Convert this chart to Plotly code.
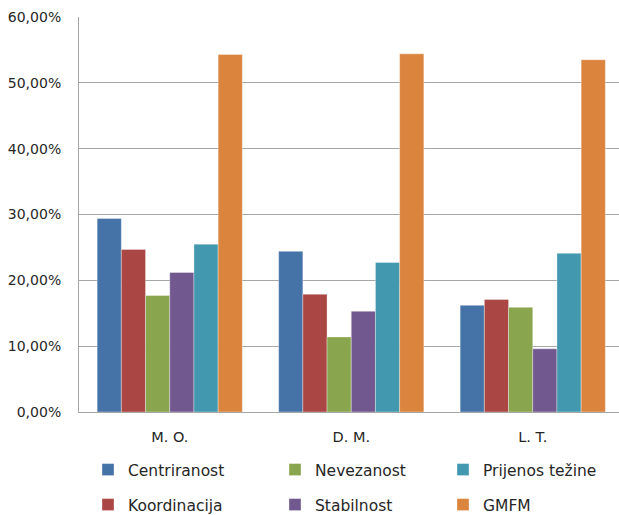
import plotly.graph_objects as go

categories = ["M. O.", "D. M.", "L. T."]
series_names = ["Centriranost", "Koordinacija", "Nevezanost", "Stabilnost", "Prijenos težine", "GMFM"]
centriranost = [29.4, 24.4, 16.2]
koordinacija = [24.7, 17.9, 17.1]
nevezanost = [17.7, 11.4, 15.9]
stabilnost = [21.2, 15.3, 9.6]
prijenos = [25.5, 22.7, 24.1]
gmfm = [54.3, 54.4, 53.5]
colors = ["#4572A7", "#AA4643", "#89A54E", "#71588F", "#4198AF", "#DB843D"]
y_ticks = [0, 10, 20, 30, 40, 50, 60]
y_tick_labels = ["0,00%", "10,00%", "20,00%", "30,00%", "40,00%", "50,00%", "60,00%"]

values = [centriranost, koordinacija, nevezanost, stabilnost, prijenos, gmfm]

W, H = 619, 515
L, T, B = 79, 17, 103
plot_w = W - L
cat_w = 181.5

# legend layout: (text-start px, row center px)
legend_pos = [(125, 470), (125, 505), (312, 470), (312, 505), (480, 470), (480, 505)]
legend_names = ["legend", "legend2", "legend3", "legend4", "legend5", "legend6"]

fig = go.Figure()
for i, (name, vals) in enumerate(zip(series_names, values)):
    fig.add_trace(go.Bar(
        x=categories, y=vals, name=name,
        marker=dict(color=colors[i], line=dict(color="rgba(255,255,255,0.35)", width=1)),
        legend=legend_names[i],
    ))

layout_legends = {}
for i, (tx, cy) in enumerate(legend_pos):
    layout_legends[legend_names[i]] = dict(
        xref="container", yref="container",
        x=(tx - 37) / W,
        y=1 - cy / H,
        xanchor="left", yanchor="middle",
        orientation="v",
        font=dict(family="DejaVu Sans", size=15.5, color="#262626"),
        bgcolor="rgba(0,0,0,0)",
        borderwidth=0,
        itemclick=False,
    )

fig.update_layout(
    width=W, height=H,
    margin=dict(l=L, r=0, t=T, b=B, pad=0, autoexpand=False),
    paper_bgcolor="white", plot_bgcolor="white",
    barmode="group", bargap=0.2, bargroupgap=0,
    showlegend=True,
    **layout_legends,
)

fig.update_yaxes(
    range=[0, 60], tickvals=y_ticks, ticktext=y_tick_labels,
    showgrid=True, gridcolor="#A6A6A6", gridwidth=1,
    showline=True, linecolor="#A6A6A6", linewidth=1,
    ticks="outside", ticklen=14, tickcolor="rgba(0,0,0,0)",
    tickfont=dict(family="DejaVu Sans", size=14, color="#262626"),
    zeroline=False, automargin=False,
)
fig.update_xaxes(
    range=[-0.5, -0.5 + plot_w / cat_w],
    showline=True, linecolor="#A6A6A6", linewidth=1,
    ticks="outside", ticklen=12, tickcolor="rgba(0,0,0,0)",
    tickfont=dict(family="DejaVu Sans", size=14.5, color="#262626"),
    showgrid=False, automargin=False,
)

fig.write_html("out.html")
